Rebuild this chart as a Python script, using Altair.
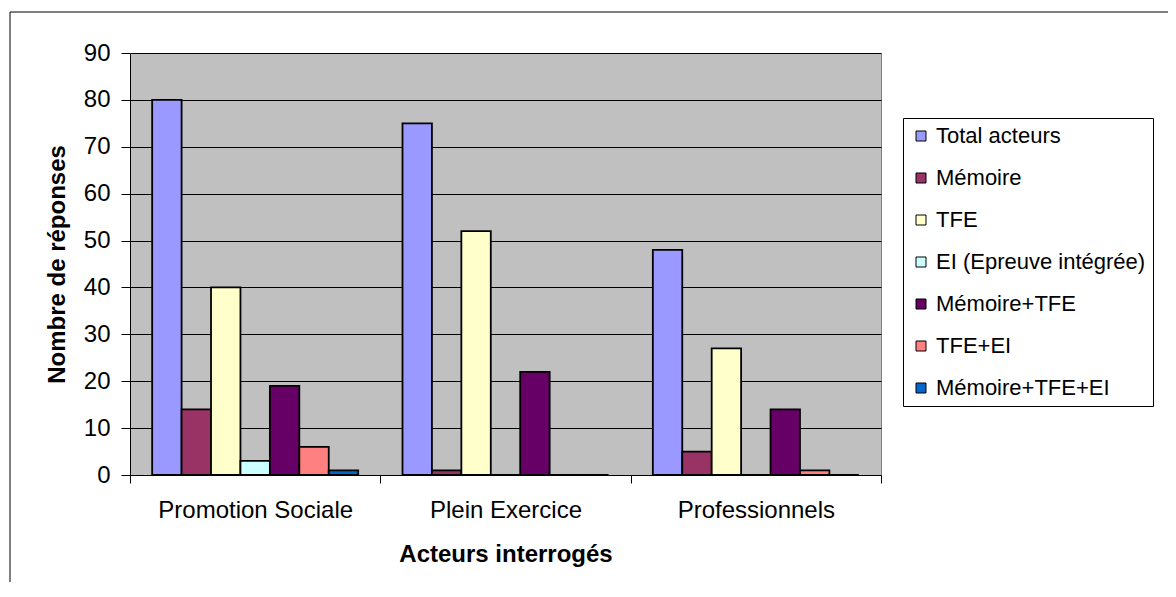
import altair as alt
import pandas as pd

categories = ["Promotion Sociale", "Plein Exercice", "Professionnels"]
series = ["Total acteurs", "Mémoire", "TFE", "EI (Epreuve intégrée)",
          "Mémoire+TFE", "TFE+EI", "Mémoire+TFE+EI"]
colors = ["#9999FF", "#993366", "#FFFFCC", "#CCFFFF", "#660066", "#FF8080", "#0066CC"]

total_acteurs = [80, 75, 48]
memoire = [14, 1, 5]
tfe = [40, 52, 27]
ei = [3, 0, 0]
memoire_tfe = [19, 22, 14]
tfe_ei = [6, 0, 1]
memoire_tfe_ei = [1, 0, 0]

cols = [total_acteurs, memoire, tfe, ei, memoire_tfe, tfe_ei, memoire_tfe_ei]
rows = []
for s, vals in zip(series, cols):
    for c, v in zip(categories, vals):
        rows.append({"Acteurs": c, "Série": s, "Valeur": v})
df = pd.DataFrame(rows)

FONT = "Liberation Sans"
FS = 24
W, H = 751, 422

bars = alt.Chart(df).mark_bar(stroke="black", strokeWidth=1.8).encode(
    x=alt.X("Acteurs:N", sort=categories,
            scale=alt.Scale(paddingInner=0, paddingOuter=0),
            axis=alt.Axis(title="Acteurs interrogés", labelAngle=0, labelLimit=400,
                          tickBand="extent", tickSize=8, labelPadding=15,
                          titlePadding=20, grid=False)),
    xOffset=alt.XOffset("Série:N", sort=series,
                        scale=alt.Scale(paddingInner=0, paddingOuter=0.753)),
    y=alt.Y("Valeur:Q", scale=alt.Scale(domain=[0, 90]),
            axis=alt.Axis(title="Nombre de réponses", values=list(range(0, 91, 10)),
                          tickSize=9, labelPadding=11, titlePadding=14,
                          grid=True, gridColor="black", gridWidth=1, gridOpacity=1)),
    color=alt.Color("Série:N", sort=series,
                    scale=alt.Scale(domain=series, range=colors),
                    legend=alt.Legend(title=None, orient="none", legendX=773, legendY=65,
                                      symbolType="square", symbolSize=100,
                                      symbolStrokeColor="black", symbolStrokeWidth=1,
                                      labelFontSize=22, labelFont=FONT, labelColor="black",
                                      labelLimit=400,
                                      rowPadding=20, padding=7, strokeColor="black",
                                      symbolOffset=0, labelOffset=4)),
)

border = alt.Chart(alt.Data(values=[{"a": 1}])).mark_rect(
    fill="transparent", stroke="black", strokeWidth=1
).encode(
    x=alt.value(-120), x2=alt.value(1200), y=alt.value(-41), y2=alt.value(700)
)

chart = alt.layer(bars, border).properties(
    width=W, height=H,
    autosize=alt.AutoSizeParams(type="none"),
    padding={"left": 122, "top": 45, "right": 287, "bottom": 107},
    background="white",
).configure_view(
    fill="#C0C0C0", stroke="#808080", strokeWidth=1
).configure_axis(
    labelFont=FONT, titleFont=FONT, labelFontSize=FS, titleFontSize=FS,
    labelColor="black", titleColor="black", titleFontWeight="bold",
    domainColor="black", tickColor="black", domainWidth=1, tickWidth=1,
)

chart.save("out.html", embed_options={"renderer": "svg", "actions": False})
